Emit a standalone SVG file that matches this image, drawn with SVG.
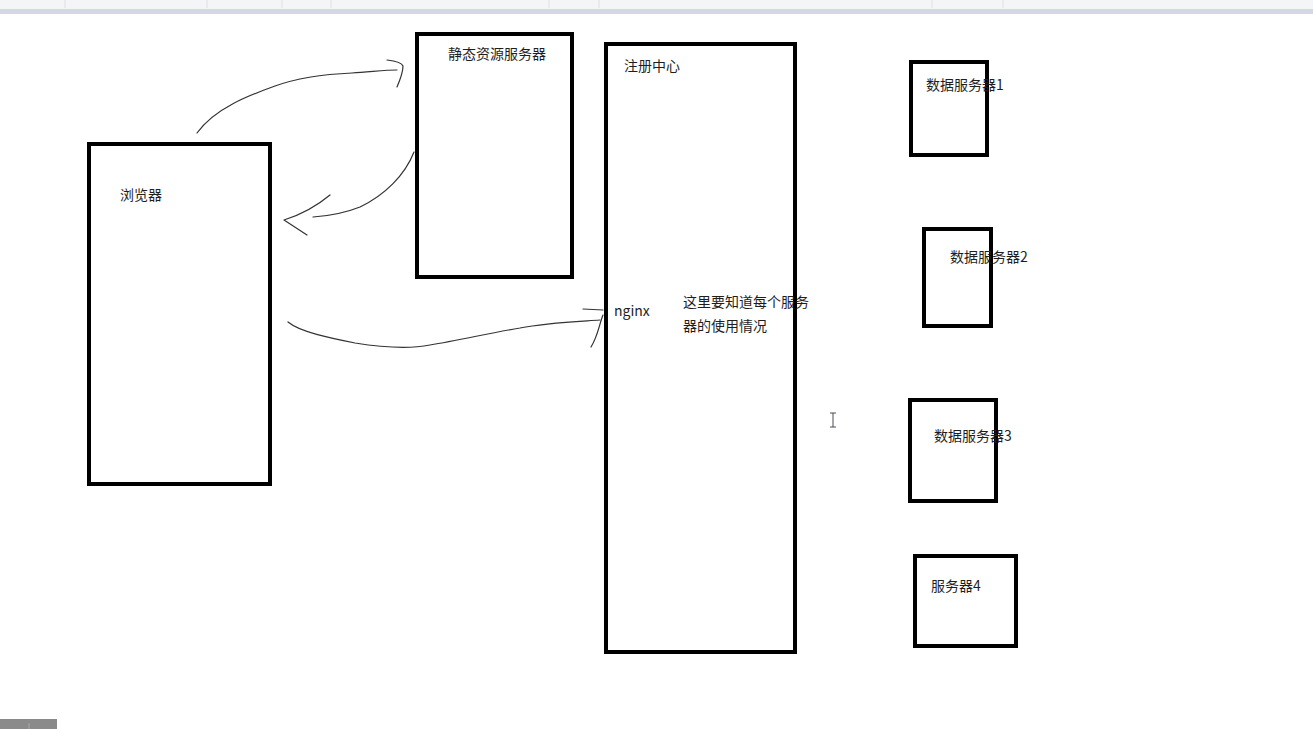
<svg xmlns="http://www.w3.org/2000/svg" width="1313" height="729" viewBox="0 0 1313 729">
<style>
.box{fill:#fff;stroke:#000;stroke-width:4}
.lbl{font-family:"Microsoft YaHei","Noto Sans CJK SC","Liberation Sans",sans-serif;font-size:14px;fill:#1e1e1e}
.ink{fill:none;stroke:#333;stroke-width:1.2;stroke-linecap:round;stroke-linejoin:round}
.sep{stroke:#dcdfe5;stroke-width:1}
</style>
<rect width="1313" height="729" fill="#fff"/>
<g id="toolbar">
<rect x="0" y="0" width="1313" height="9" fill="#f4f5f7"/>
<rect x="0" y="9" width="1313" height="5" fill="#d3d8e3"/>
<line class="sep" x1="65" y1="0" x2="65" y2="8"/>
<line class="sep" x1="207" y1="0" x2="207" y2="8"/>
<line class="sep" x1="282" y1="0" x2="282" y2="8"/>
<line class="sep" x1="331" y1="0" x2="331" y2="8"/>
<line class="sep" x1="549" y1="0" x2="549" y2="8"/>
<line class="sep" x1="599" y1="0" x2="599" y2="8"/>
<line class="sep" x1="932" y1="0" x2="932" y2="8"/>
<line class="sep" x1="1003" y1="0" x2="1003" y2="8"/>
</g>
<g id="browser">
<rect class="box" x="89" y="144" width="181" height="340"/>
<text class="lbl" x="120" y="200">浏览器</text>
</g>
<g id="static-server">
<rect class="box" x="417" y="34" width="155" height="243"/>
<text class="lbl" x="448" y="59">静态资源服务器</text>
</g>
<g id="registry">
<rect class="box" x="606" y="44" width="189" height="608"/>
<text class="lbl" x="624" y="71">注册中心</text>
<text class="lbl" x="614" y="316">nginx</text>
<text class="lbl" x="683" y="307">这里要知道每个服务</text>
<text class="lbl" x="683" y="331">器的使用情况</text>
</g>
<g id="data-server-1">
<rect class="box" x="911" y="62" width="76" height="93"/>
<text class="lbl" x="926" y="90">数据服务器1</text>
</g>
<g id="data-server-2">
<rect class="box" x="924" y="229" width="67" height="97"/>
<text class="lbl" x="950" y="262">数据服务器2</text>
</g>
<g id="data-server-3">
<rect class="box" x="910" y="400" width="86" height="101"/>
<text class="lbl" x="934" y="441">数据服务器3</text>
</g>
<g id="server-4">
<rect class="box" x="915" y="556" width="101" height="90"/>
<text class="lbl" x="931" y="591">服务器4</text>
</g>
<g id="connectors">
<path class="ink" d="M197,133 C215,108 250,95 275,86 C300,77 330,74 352,73 C370,72 385,70 397,70"/>
<path class="ink" d="M387,60 C396,61 402,63 403,66 C403,73 400,80 397,87"/>
<path class="ink" d="M414,152 C405,175 385,195 360,207 C345,213 328,216 313,217"/>
<path class="ink" d="M330,195 C318,205 300,215 284,220 L307,235"/>
<path class="ink" d="M288,322 C300,332 330,338 355,343 C380,347 410,349 430,345 C460,340 490,333 520,328 C545,323 570,322 600,320"/>
<path class="ink" d="M583,309 L603,310"/>
<path class="ink" d="M603,315 C599,325 598,336 591,347"/>
</g>
<g id="cursor">
<path d="M833,413 L833,427 M830,413 L836,413 M830,427 L836,427" fill="none" stroke="#4a4a55" stroke-width="1"/>
</g>
<g id="scrollbar">
<rect x="0" y="719" width="57" height="10" fill="#8a8a8a"/>
<line x1="29" y1="723" x2="29" y2="729" stroke="#a8a8a8" stroke-width="1"/>
</g>
</svg>
